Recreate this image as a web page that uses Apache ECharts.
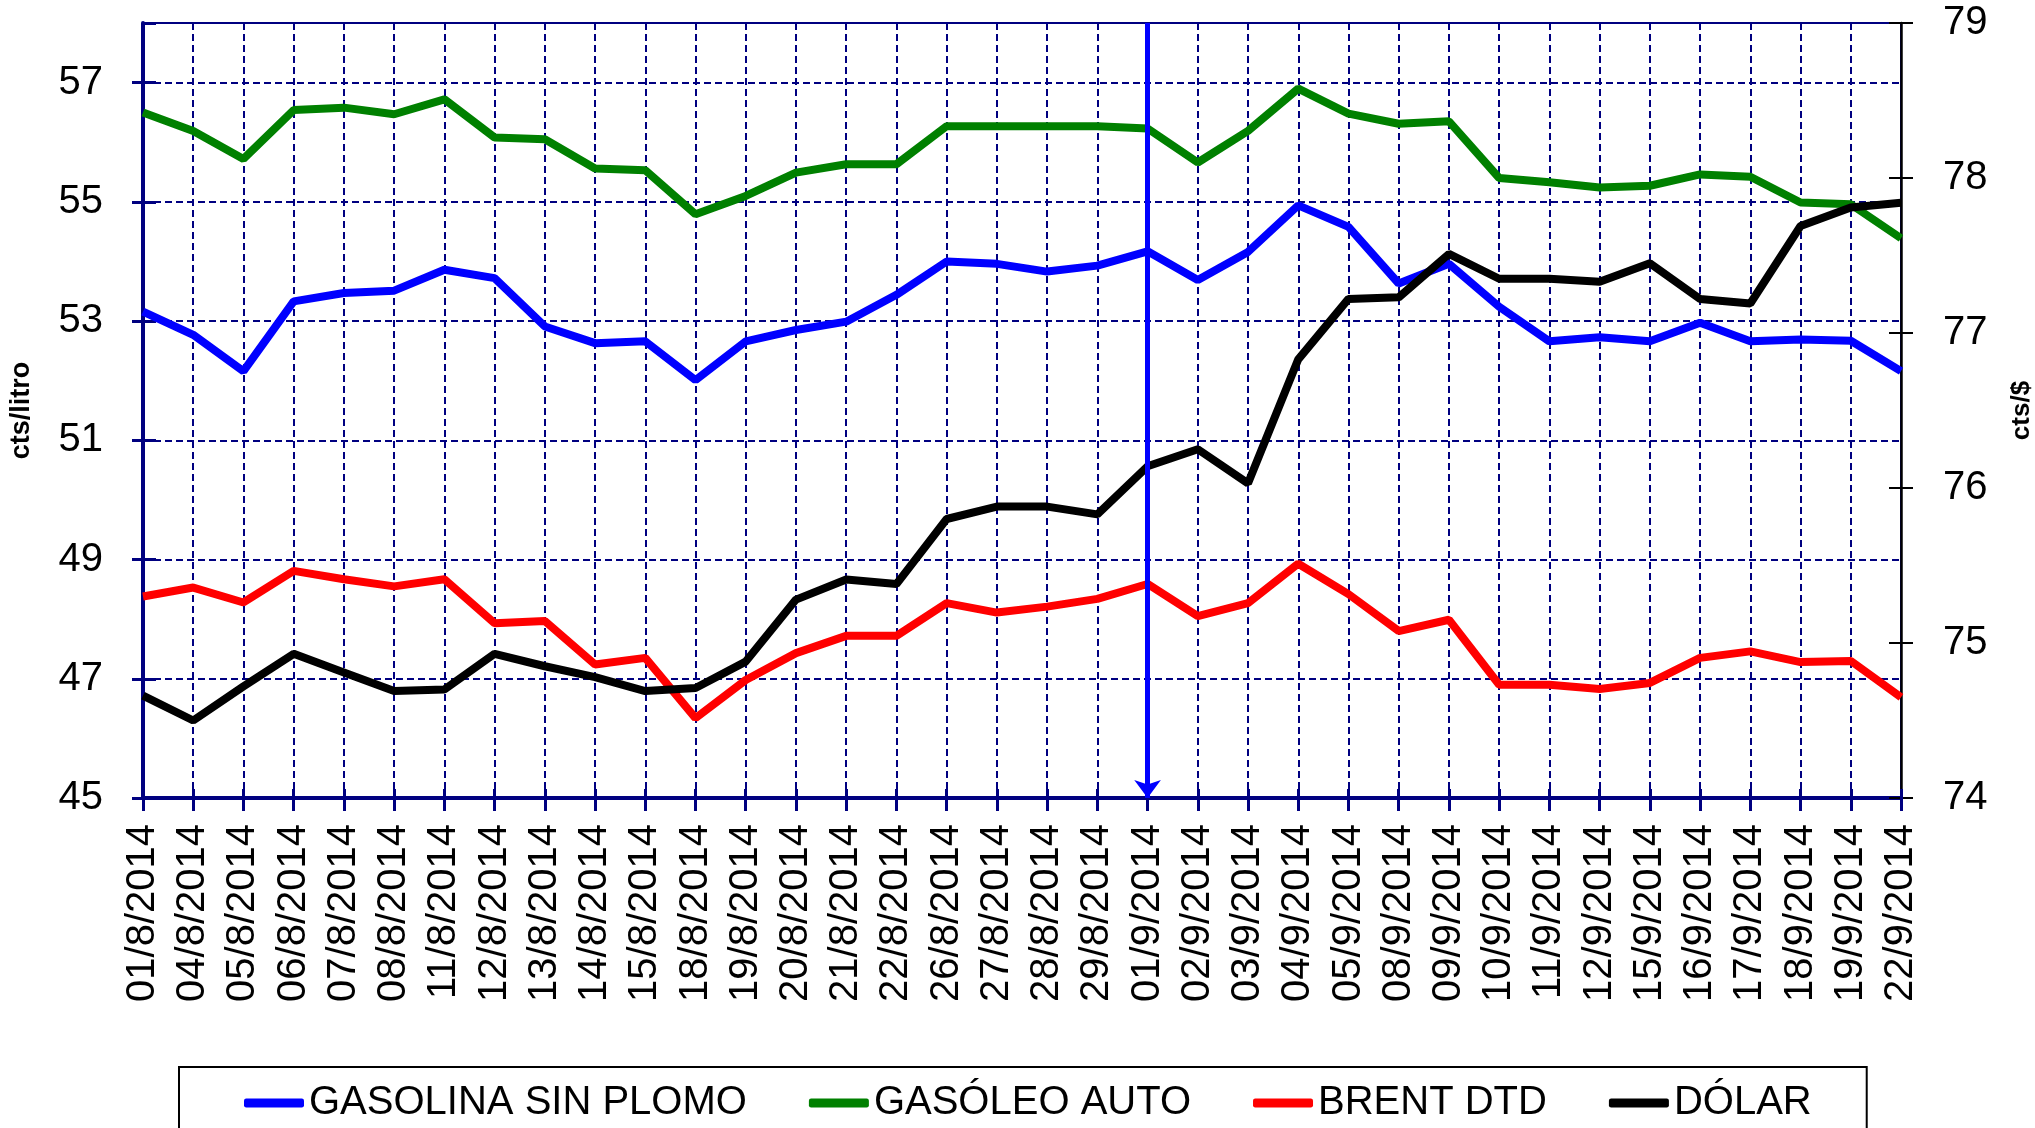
<!DOCTYPE html>
<html>
<head>
<meta charset="utf-8">
<script src="https://cdn.jsdelivr.net/npm/echarts@6/dist/echarts.min.js"></script>
<style>
  html, body { margin: 0; padding: 0; background: #fff; }
  #chart { width: 2035px; height: 1128px; }
</style>
</head>
<body>
<div id="chart"></div>
<script>
const fechas = ['01/8/2014', '04/8/2014', '05/8/2014', '06/8/2014', '07/8/2014', '08/8/2014',
  '11/8/2014', '12/8/2014', '13/8/2014', '14/8/2014', '15/8/2014', '18/8/2014', '19/8/2014',
  '20/8/2014', '21/8/2014', '22/8/2014', '26/8/2014', '27/8/2014', '28/8/2014', '29/8/2014',
  '01/9/2014', '02/9/2014', '03/9/2014', '04/9/2014', '05/9/2014', '08/9/2014', '09/9/2014',
  '10/9/2014', '11/9/2014', '12/9/2014', '15/9/2014', '16/9/2014', '17/9/2014', '18/9/2014',
  '19/9/2014', '22/9/2014'];

// cts/litro
const gasolina = [53.16, 52.77, 52.16, 53.33, 53.47, 53.51, 53.86, 53.72, 52.91, 52.63, 52.66, 52.01,
  52.66, 52.85, 52.99, 53.44, 54.00, 53.96, 53.83, 53.93, 54.17, 53.69, 54.16, 54.94, 54.58,
  53.63, 53.96, 53.24, 52.66, 52.73, 52.66, 52.97, 52.66, 52.69, 52.67, 52.16];
const gasoleo = [56.50, 56.19, 55.72, 56.54, 56.58, 56.47, 56.72, 56.08, 56.05, 55.56, 55.53, 54.79,
  55.10, 55.49, 55.63, 55.63, 56.27, 56.27, 56.27, 56.27, 56.23, 55.66, 56.19, 56.90, 56.48,
  56.31, 56.35, 55.40, 55.33, 55.24, 55.27, 55.46, 55.42, 54.99, 54.96, 54.39];
const brent = [48.38, 48.53, 48.28, 48.81, 48.67, 48.55, 48.67, 47.93, 47.97, 47.24, 47.35, 46.34,
  46.98, 47.43, 47.72, 47.72, 48.27, 48.11, 48.21, 48.34, 48.59, 48.05, 48.27, 48.93, 48.42,
  47.80, 47.99, 46.90, 46.90, 46.83, 46.93, 47.35, 47.46, 47.28, 47.30, 46.69];
// cts/$
const dolar = [74.66, 74.50, 74.72, 74.93, 74.81, 74.69, 74.70, 74.93, 74.85, 74.78, 74.69, 74.71,
  74.88, 75.28, 75.41, 75.38, 75.80, 75.88, 75.88, 75.83, 76.14, 76.25, 76.03, 76.83, 77.22,
  77.23, 77.51, 77.35, 77.35, 77.33, 77.45, 77.22, 77.19, 77.69, 77.81, 77.84];

const fechaFlecha = '01/9/2014';

const navy = '#000080';
const fuente = "'Liberation Sans', Arial, sans-serif";
const rejilla = { show: true, lineStyle: { color: navy, width: 2, type: [7, 4] } };

let chart = echarts.init(document.getElementById('chart'), null, { renderer: 'canvas' });

const option = {
  animation: false,
  backgroundColor: '#fff',
  textStyle: { fontFamily: fuente },
  grid: {
    left: 143, right: 134, top: 23, bottom: 330,
    outerBoundsMode: 'none', containLabel: false,
    show: true, borderColor: navy, borderWidth: 2
  },
  legend: {
    left: 179,
    top: 1067,
    padding: [16, 55, 30, 65],
    borderColor: '#000',
    borderWidth: 2,
    itemGap: 62,
    itemWidth: 60,
    itemHeight: 9,
    icon: 'roundRect',
    textStyle: { fontSize: 40, color: '#000', fontFamily: fuente },
    data: ['GASOLINA SIN PLOMO', 'GASÓLEO AUTO', 'BRENT DTD', 'DÓLAR']
  },
  xAxis: [
    {
      type: 'category',
      data: fechas,
      boundaryGap: false,
      axisLine: { lineStyle: { color: navy, width: 4 } },
      axisTick: { show: true, interval: 0, length: 13, lineStyle: { color: navy, width: 3 } },
      axisLabel: { interval: 0, rotate: 90, margin: 26, fontSize: 40, color: '#000', fontFamily: fuente },
      splitLine: Object.assign({ interval: 0 }, rejilla)
    },
    {
      type: 'category',
      data: fechas,
      boundaryGap: false,
      position: 'bottom',
      axisLine: { show: false },
      axisTick: { show: true, inside: true, interval: 0, length: 9, lineStyle: { color: navy, width: 3 } },
      axisLabel: { show: false },
      splitLine: { show: false }
    }
  ],
  yAxis: [
    {
      type: 'value',
      min: 45,
      max: 58,
      interval: 2,
      position: 'left',
      name: 'cts/litro',
      nameLocation: 'middle',
      nameRotate: 90,
      nameGap: 108,
      nameTextStyle: { fontSize: 27, fontWeight: 'bold', color: '#000', fontFamily: fuente },
      axisLine: { show: true, lineStyle: { color: navy, width: 4 } },
      axisTick: { show: true, length: 11, lineStyle: { color: navy, width: 3 } },
      axisLabel: { margin: 40, fontSize: 40, color: '#000', showMaxLabel: false, fontFamily: fuente },
      splitLine: rejilla
    },
    {
      type: 'value',
      min: 74,
      max: 79,
      interval: 1,
      position: 'right',
      name: 'cts/$',
      nameLocation: 'middle',
      nameRotate: 90,
      nameGap: 108,
      nameTextStyle: { fontSize: 26, fontWeight: 'bold', color: '#000', fontFamily: fuente },
      axisLine: { show: true, lineStyle: { color: '#000', width: 2.5 } },
      axisTick: { show: true, length: 12, lineStyle: { color: '#000', width: 2 } },
      axisLabel: { margin: 42, fontSize: 40, color: '#000', fontFamily: fuente },
      splitLine: { show: false }
    },
    {
      type: 'value',
      min: 45,
      max: 58,
      interval: 2,
      position: 'left',
      axisLine: { show: false },
      axisTick: { show: true, inside: true, length: 13, lineStyle: { color: navy, width: 3 } },
      axisLabel: { show: false },
      splitLine: { show: false }
    },
    {
      type: 'value',
      min: 74,
      max: 79,
      interval: 1,
      position: 'right',
      axisLine: { show: false },
      axisTick: { show: true, inside: true, length: 12, lineStyle: { color: '#000', width: 2 } },
      axisLabel: { show: false },
      splitLine: { show: false }
    }
  ],
  series: [
    {
      name: 'GASOLINA SIN PLOMO',
      type: 'line',
      data: gasolina,
      yAxisIndex: 0,
      showSymbol: false,
      itemStyle: { color: '#0000FF' },
      lineStyle: { color: '#0000FF', width: 8 },
      markLine: {
        silent: true,
        symbol: ['arrow', 'none'],
        symbolSize: [20, 18],
        label: { show: false },
        lineStyle: { color: '#0000FF', width: 5, type: 'solid' },
        data: [{ xAxis: fechaFlecha }]
      }
    },
    {
      name: 'GASÓLEO AUTO',
      type: 'line',
      data: gasoleo,
      yAxisIndex: 0,
      showSymbol: false,
      itemStyle: { color: '#008000' },
      lineStyle: { color: '#008000', width: 8 }
    },
    {
      name: 'BRENT DTD',
      type: 'line',
      data: brent,
      yAxisIndex: 0,
      showSymbol: false,
      itemStyle: { color: '#FF0000' },
      lineStyle: { color: '#FF0000', width: 8 }
    },
    {
      name: 'DÓLAR',
      type: 'line',
      data: dolar,
      yAxisIndex: 1,
      showSymbol: false,
      itemStyle: { color: '#000' },
      lineStyle: { color: '#000', width: 8 }
    }
  ]
};

chart.setOption(option);
</script>
</body>
</html>
